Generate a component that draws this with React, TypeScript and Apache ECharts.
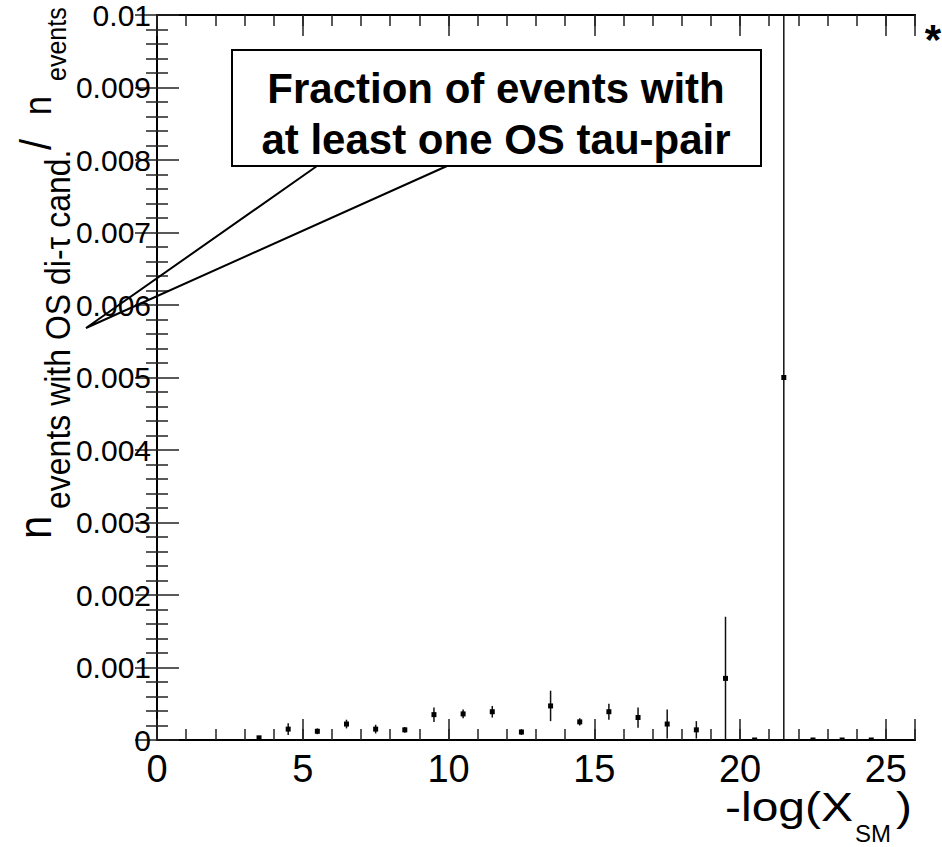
import React, { useEffect, useRef } from "react";
import * as echarts from "echarts";

// bin centres of -log(X_SM)
const binCenters = [3.5, 4.5, 5.5, 6.5, 7.5, 8.5, 9.5, 10.5, 11.5, 12.5, 13.5, 14.5, 15.5, 16.5, 17.5, 18.5, 19.5, 20.5, 21.5, 22.5, 23.5, 24.5];
// fraction of events with at least one OS di-tau candidate
const fractions = [0.00003, 0.00015, 0.00012, 0.00022, 0.00015, 0.00014, 0.00035, 0.00036, 0.00039, 0.00011, 0.00047, 0.00025, 0.00039, 0.00031, 0.00022, 0.00014, 0.00085, 0, 0.005, 0, 0, 0];
// statistical uncertainties
const errors = [0.00002, 0.00008, 0.00004, 0.00006, 0.00006, 0.00004, 0.0001, 0.00006, 0.00008, 0.00004, 0.00021, 0.00005, 0.00011, 0.00014, 0.0002, 0.00012, 0.00085, 0, 0.005, 0, 0, 0];

const xTickLabels = ["0", "5", "10", "15", "20", "25"];

const FONT = "'Liberation Sans', Arial, Helvetica, sans-serif";

export default function App() {
  const ref = useRef<HTMLDivElement>(null);

  useEffect(() => {
    if (!ref.current) return;
    const chart = echarts.init(ref.current, undefined, { renderer: "svg" });

    const data = binCenters.map((x, i) => [x, fractions[i], errors[i]]);

    const frameColor = "#000";
    const tickColor = "#222";

    const xBase = {
      type: "value",
      min: 0,
      max: 26,
      axisLine: { show: true, lineStyle: { color: frameColor, width: 2 } },
      splitLine: { show: false },
    };

    const yBase = {
      type: "value",
      min: 0,
      max: 0.01,
      interval: 0.001,
      axisLine: { show: true, lineStyle: { color: frameColor, width: 2 } },
      splitLine: { show: false },
      axisTick: { show: true, inside: true, length: 22, lineStyle: { color: tickColor, width: 1.5 } },
      minorTick: { show: true, splitNumber: 5, length: 11, lineStyle: { color: tickColor, width: 1.5 } },
    };

    const rotText = (text: string, x: number, y: number, size: number) => ({
      type: "text",
      x,
      y,
      rotation: Math.PI / 2,
      scaleY: 1.12,
      style: { text, font: `${size}px ${FONT}`, fill: "#000", align: "left", verticalAlign: "middle" },
    });

    const option: any = {
      animation: false,
      backgroundColor: "#fff",
      grid: { left: 157, top: 15, right: 27, bottom: 107, containLabel: false, outerBoundsMode: "none" },
      xAxis: [
        {
          ...xBase,
          position: "bottom",
          interval: 5,
          axisTick: { show: true, inside: true, length: 21, lineStyle: { color: tickColor, width: 1.5 } },
          axisLabel: {
            show: true,
            margin: 10,
            fontSize: 38,
            fontFamily: FONT,
            color: "#000",
            formatter: (v: number) => {
              const s = String(Math.round(v));
              return xTickLabels.indexOf(s) >= 0 ? s : "";
            },
          },
        },
        {
          ...xBase,
          position: "bottom",
          interval: 1,
          axisTick: { show: true, inside: true, length: 11, lineStyle: { color: tickColor, width: 1.5 } },
          axisLabel: { show: false },
        },
        {
          ...xBase,
          position: "top",
          interval: 5,
          axisTick: { show: true, inside: true, length: 21, lineStyle: { color: tickColor, width: 1.5 } },
          axisLabel: { show: false },
        },
        {
          ...xBase,
          position: "top",
          interval: 1,
          axisTick: { show: true, inside: true, length: 11, lineStyle: { color: tickColor, width: 1.5 } },
          axisLabel: { show: false },
        },
      ],
      yAxis: [
        {
          ...yBase,
          position: "left",
          axisLabel: {
            show: true,
            margin: 6,
            fontSize: 30,
            fontFamily: FONT,
            color: "#000",
            formatter: (v: number) => String(parseFloat(v.toFixed(4))),
          },
        },
        {
          ...yBase,
          position: "right",
          axisLabel: { show: false },
        },
      ],
      series: [
        {
          type: "custom",
          xAxisIndex: 0,
          yAxisIndex: 0,
          data,
          clip: true,
          renderItem: (params: any, api: any) => {
            const x = api.value(0);
            const y = api.value(1);
            const e = api.value(2);
            const p = api.coord([x, y]);
            const top = api.coord([x, y + e]);
            const bot = api.coord([x, Math.max(0, y - e)]);
            const s = 5;
            return {
              type: "group",
              children: [
                {
                  type: "line",
                  shape: { x1: p[0], y1: top[1], x2: p[0], y2: bot[1] },
                  style: { stroke: "#111", lineWidth: 1.5 },
                },
                {
                  type: "rect",
                  shape: { x: p[0] - s / 2, y: p[1] - s / 2, width: s, height: s },
                  style: { fill: "#000" },
                },
              ],
            };
          },
        },
      ],
      graphic: [
        // callout box
        {
          type: "polyline",
          shape: { points: [[317, 166], [86, 328], [447, 166]] },
          style: { stroke: "#000", lineWidth: 2, fill: null },
          z: 100,
        },
        {
          type: "rect",
          shape: { x: 232, y: 50, width: 529, height: 116 },
          style: { fill: "#fff", stroke: "#000", lineWidth: 2 },
          z: 100,
        },
        {
          type: "text",
          x: 496,
          y: 88,
          z: 101,
          style: {
            text: "Fraction of events with",
            font: `bold 42px ${FONT}`,
            fill: "#000",
            align: "center",
            verticalAlign: "middle",
          },
        },
        {
          type: "text",
          x: 496,
          y: 139,
          z: 101,
          style: {
            text: "at least one OS tau-pair",
            font: `bold 42px ${FONT}`,
            fill: "#000",
            align: "center",
            verticalAlign: "middle",
          },
        },
        // star in top right
        {
          type: "text",
          x: 933,
          y: 39,
          z: 101,
          style: { text: "*", font: `bold 42px ${FONT}`, fill: "#000", align: "center", verticalAlign: "middle" },
        },
        // x axis title
        {
          type: "text",
          x: 853,
          y: 807,
          scaleX: 1.2,
          style: { text: "-log(X", font: `40px ${FONT}`, fill: "#000", align: "right", verticalAlign: "middle" },
        },
        {
          type: "text",
          x: 855,
          y: 833,
          style: { text: "SM", font: `24px ${FONT}`, fill: "#000", align: "left", verticalAlign: "middle" },
        },
        {
          type: "text",
          x: 896,
          y: 807,
          scaleX: 1.2,
          style: { text: ")", font: `40px ${FONT}`, fill: "#000", align: "left", verticalAlign: "middle" },
        },
        // y axis title (rotated)
        rotText("n", 35, 539, 42),
        rotText("events with OS di-\u03c4 cand.", 57, 509, 32),
        rotText("/", 36, 150, 40),
        rotText("n", 38, 115, 34),
        rotText("events", 57, 81, 25),
      ],
    };

    chart.setOption(option);
    return () => chart.dispose();
  }, []);

  return (
    <div
      ref={ref}
      style={{ position: "absolute", left: 0, top: 0, width: 942, height: 847, background: "#fff" }}
    />
  );
}
